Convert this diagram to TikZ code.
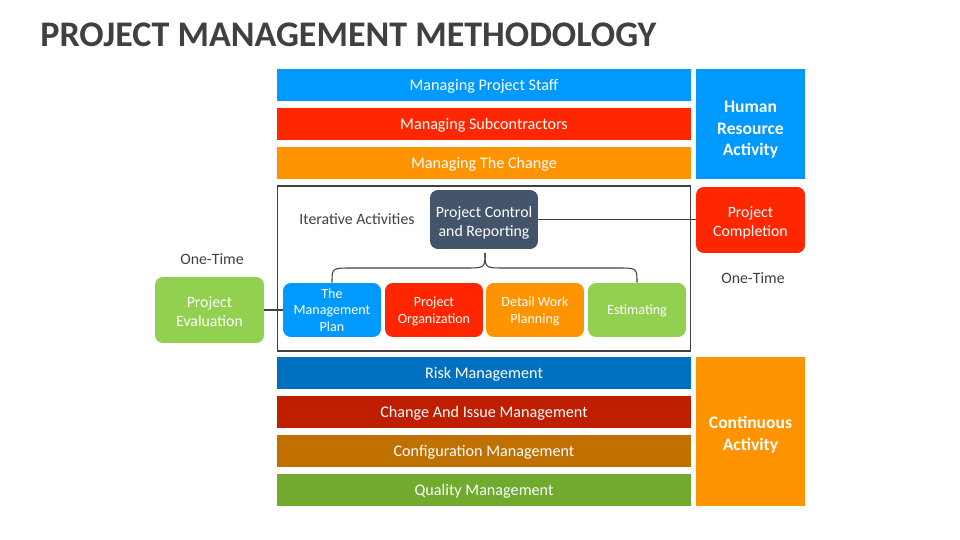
\documentclass[tikz,border=0pt]{standalone}
\usepackage{fontspec}
\setmainfont{Carlito}
\definecolor{cSky}{HTML}{0099FF}
\definecolor{cRed}{HTML}{FF2600}
\definecolor{cOrange}{HTML}{FF9300}
\definecolor{cNavy}{HTML}{0070C0}
\definecolor{cCrimson}{HTML}{BF1E00}
\definecolor{cBronze}{HTML}{C07000}
\definecolor{cLeaf}{HTML}{70AB2F}
\definecolor{cLime}{HTML}{92D050}
\definecolor{cSlate}{HTML}{44546A}
\definecolor{cInk}{HTML}{404040}
\begin{document}
\begin{tikzpicture}[x=0.02cm, y=-0.02cm, every node/.style={inner sep=0pt, align=center, text=white, text depth=0pt},
    bar/.style={minimum width=8.28cm, minimum height=0.64cm, font=\fontsize{9.2}{11}\selectfont},
    side/.style={minimum width=2.18cm, font=\fontsize{10}{12.2}\selectfont\bfseries},
    card/.style={rounded corners=4.5pt, minimum width=1.96cm, minimum height=1.08cm, font=\fontsize{8}{9.6}\selectfont},
    bigcard/.style={rounded corners=4.5pt, minimum width=2.18cm, minimum height=1.32cm, text height=19.2pt, font=\fontsize{9}{10.8}\selectfont},
    note/.style={text=cInk, font=\fontsize{9}{10.8}\selectfont},
    link/.style={draw=cInk, line width=0.6pt}]
  \useasboundingbox (0,0) rectangle (960,540);
  \node[anchor=base west, text=cInk, font=\fontsize{20.5}{24}\selectfont\bfseries] (title) at (40,47) {PROJECT MANAGEMENT METHODOLOGY};
  % bars above and below the iterative frame
  \foreach \y/\c/\n/\t in {85/cSky/staff/Managing Project Staff, 124/cRed/subs/Managing Subcontractors, 163/cOrange/change/Managing The Change,
      373/cNavy/risk/Risk Management, 412/cCrimson/issue/Change And Issue Management, 451/cBronze/config/Configuration Management, 490/cLeaf/quality/Quality Management}
    \node[bar, fill=\c] (\n) at (484,\y) {\t};
  \node[side, fill=cSky, minimum height=2.2cm, text height=36pt] (human) at (750.5,124) {Human\\Resource\\Activity};
  \node[side, fill=cOrange, minimum height=2.98cm, text height=21.5pt] (contin) at (750.5,431.5) {Continuous\\Activity};
  % iterative activities
  \node[draw=cInk, line width=0.6pt, minimum width=8.28cm, minimum height=3.3cm] (frame) at (484,268.5) {};
  \node[note] (iter) at (357,219) {Iterative Activities};
  \node[bigcard, fill=cSlate, minimum width=2.16cm, minimum height=1.18cm] (control) at (484,219.5) {Project Control\\and Reporting};
  \node[card, fill=cSky] (plan) at (332,310) {The\\Management\\Plan};
  \node[card, fill=cRed] (org) at (434,310) {Project\\Organization};
  \node[card, fill=cOrange] (detail) at (535,310) {Detail Work\\Planning};
  \node[card, fill=cLime] (estim) at (637,310) {Estimating};
  \node[bigcard, fill=cRed] (complete) at (750.5,220) {Project\\Completion};
  \node[bigcard, fill=cLime] (eval) at (209.5,310) {Project\\Evaluation};
  \node[note] (once1) at (212,259) {One-Time};
  \node[note] (once2) at (753,278) {One-Time};
  \coordinate (tip) at (485,253);
  \draw[link] (control.east) -- (control.east -| complete.west);
  \draw[link] (eval.east) -- (plan.west);
  \draw[link] (plan.north) .. controls (332,268) .. (352,268) -- (465,268) .. controls (485,268) .. (tip);
  \draw[link] (tip) .. controls (485,268) .. (505,268) -- (617,268) .. controls (637,268) .. (estim.north);
\end{tikzpicture}
\end{document}
